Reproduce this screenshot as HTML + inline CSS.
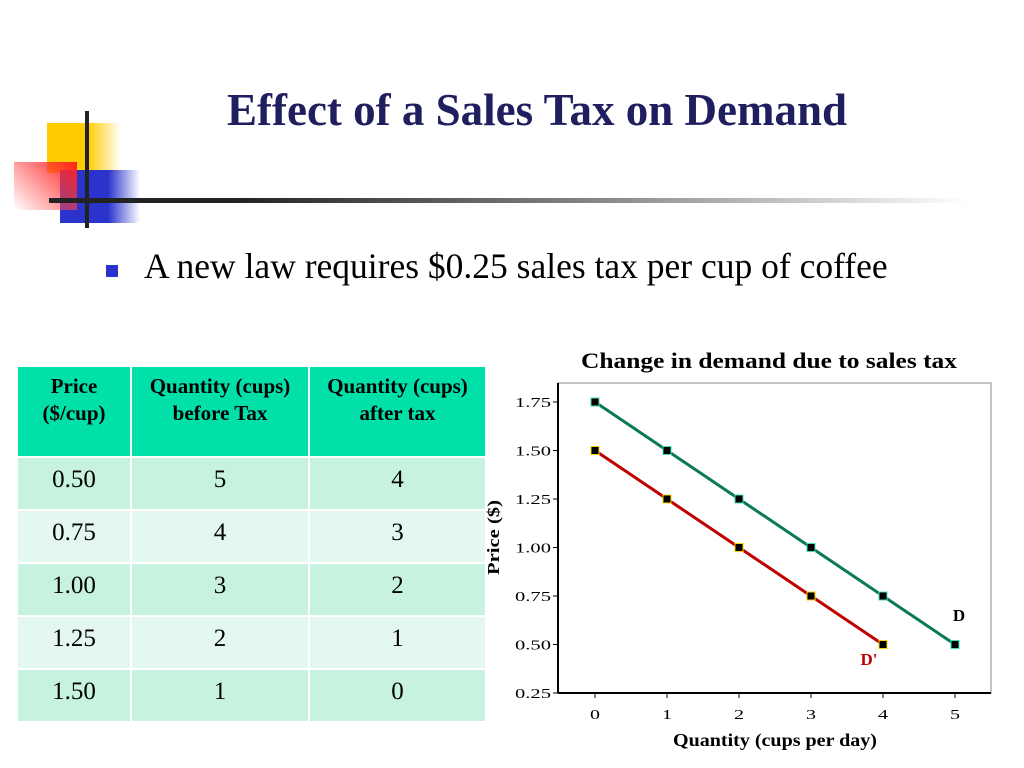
<!DOCTYPE html>
<html><head><meta charset="utf-8"><style>
body{margin:0;width:1024px;height:768px;background:#fff;position:relative;overflow:hidden;font-family:"Liberation Serif",serif}
.abs{position:absolute}
table{position:absolute;left:16px;top:367px;width:471px;border-collapse:separate;border-spacing:2px 0;font-family:"Liberation Serif",serif;table-layout:fixed}
</style></head><body>
<div class="abs" style="left:47px;top:123px;width:74px;height:50px;background:linear-gradient(90deg,#ffcc00 55%,rgba(255,204,0,0))"></div>
<div class="abs" style="left:60px;top:170px;width:80px;height:53px;background:linear-gradient(90deg,#2a33cc 60%,rgba(42,51,204,0))"></div>
<div class="abs" style="left:14px;top:162px;width:63px;height:48px;background:linear-gradient(45deg,rgba(255,255,255,0.2),#ff2020)"></div>
<div class="abs" style="left:85px;top:111px;width:4px;height:117px;background:#222"></div>
<div class="abs" style="left:49px;top:198px;width:920px;height:5px;background:linear-gradient(90deg,#222 20%,#888 60%,rgba(255,255,255,0))"></div>
<div class="abs" style="left:137px;top:84px;width:800px;text-align:center;font-size:45px;font-weight:bold;color:#1f1f5f">Effect of a Sales Tax on Demand</div>
<div class="abs" style="left:106px;top:265px;width:12px;height:12px;background:#2a33cc"></div>
<div class="abs" style="left:144px;top:245px;font-size:35.5px;color:#000;white-space:nowrap">A new law requires $0.25 sales tax per cup of coffee</div>

<table>
<colgroup><col style="width:112px"><col style="width:176px"><col></colgroup>
<tr style="background:#00e0a8;height:89px;font-weight:bold;font-size:21px;vertical-align:top;text-align:center">
<th style="padding-top:6px;line-height:27px;background:#00e0a8">Price<br>($/cup)</th>
<th style="padding-top:6px;line-height:27px;background:#00e0a8;white-space:nowrap">Quantity (cups)<br>before Tax</th>
<th style="padding-top:6px;line-height:27px;background:#00e0a8;white-space:nowrap">Quantity (cups)<br>after tax</th></tr>
<tbody id="tb"></tbody>
</table>

<svg class="abs" style="left:0;top:0" width="1024" height="768" id="chart"></svg>
<script>
const prices=["0.50","0.75","1.00","1.25","1.50"];
const qtyBefore=[5,4,3,2,1];
const qtyAfter=[4,3,2,1,0];
const tb=document.getElementById('tb');
prices.forEach((p,i)=>{const tr=document.createElement('tr');


tr.style.height='53px';tr.style.fontSize='25px';
const bg=i%2?'#e4f8ef':'#c8f2e0';
[p,qtyBefore[i],qtyAfter[i]].forEach((v,j)=>{const td=document.createElement('td');


td.textContent=v;td.style.background=bg;td.style.textAlign='center';td.style.verticalAlign='top';td.style.paddingTop='8px';td.style.borderTop='2px solid #fff';tr.appendChild(td);});
tb.appendChild(tr);});

const xQty=[0,1,2,3,4,5];
const dPrice=[1.75,1.5,1.25,1.0,0.75,0.5];
const dtQty=[0,1,2,3,4];
const dtPrice=[1.5,1.25,1.0,0.75,0.5];
const yTicks=[0.25,0.5,0.75,1.0,1.25,1.5,1.75];
const xTicks=[0,1,2,3,4,5];
const X=q=>595+q*72, Y=p=>693-(p-0.25)*194;
const svg=document.getElementById('chart'),NS='http://www.w3.org/2000/svg';
function el(t,a,name){const e=document.createElementNS(NS,t);for(const k in a)e.setAttribute(k,a[k]);


svg.appendChild(e);return e;}
el('rect',{x:558,y:383,width:433,height:310,fill:'none',stroke:'#888','stroke-width':1},'plot-area');
el('line',{x1:558,y1:383,x2:558,y2:693,stroke:'#000','stroke-width':2},'y-axis');
el('line',{x1:558,y1:693,x2:991,y2:693,stroke:'#000','stroke-width':2},'x-axis');
yTicks.forEach(v=>{el('line',{x1:553,y1:Y(v),x2:558,y2:Y(v),stroke:'#000'},'y-tick');
const t=el('text',{x:515,y:Y(v)+5,textLength:36,lengthAdjust:'spacingAndGlyphs','font-size':14,'font-family':'Liberation Serif'},'y-tick-label');t.textContent=v.toFixed(2);});
xTicks.forEach(v=>{el('line',{x1:X(v),y1:693,x2:X(v),y2:698,stroke:'#000'},'x-tick');
const t=el('text',{x:X(v)-5,y:719,textLength:10,lengthAdjust:'spacingAndGlyphs','font-size':14,'font-family':'Liberation Serif'},'x-tick-label');t.textContent=v;});
el('polyline',{points:xQty.map((q,i)=>X(q)+','+Y(dPrice[i])).join(' '),fill:'none',stroke:'#0a7a55','stroke-width':3},'demand-line-d');
el('polyline',{points:dtQty.map((q,i)=>X(q)+','+Y(dtPrice[i])).join(' '),fill:'none',stroke:'#c00000','stroke-width':3},'demand-line-d-prime');
xQty.forEach((q,i)=>el('rect',{x:X(q)-4,y:Y(dPrice[i])-4,width:8,height:8,fill:'#000',stroke:'#40e0c0','stroke-width':1},'point-d'));
dtQty.forEach((q,i)=>el('rect',{x:X(q)-4,y:Y(dtPrice[i])-4,width:8,height:8,fill:'#000',stroke:'#ffd000','stroke-width':1},'point-d-prime'));
let t=el('text',{x:959,y:621,'text-anchor':'middle','font-size':17,'font-weight':'bold','font-family':'Liberation Serif'},'label-d');t.textContent='D';
t=el('text',{x:869,y:665,'text-anchor':'middle','font-size':17,'font-weight':'bold',fill:'#c00000','font-family':'Liberation Serif'},'label-d-prime');t.textContent="D'";
t=el('text',{x:673,y:746,textLength:204,lengthAdjust:'spacingAndGlyphs','font-size':18,'font-weight':'bold','font-family':'Liberation Serif'},'x-axis-title');t.textContent='Quantity (cups per day)';
t=el('text',{x:499,y:575,textLength:75,lengthAdjust:'spacingAndGlyphs','font-size':17,'font-weight':'bold','font-family':'Liberation Serif',transform:'rotate(-90 499 575)'},'y-axis-title');t.textContent='Price ($)';
t=el('text',{x:581,y:368,textLength:376,lengthAdjust:'spacingAndGlyphs','font-size':22,'font-weight':'bold','font-family':'Liberation Serif'},'chart-title');t.textContent='Change in demand due to sales tax';
</script>
</body></html>
